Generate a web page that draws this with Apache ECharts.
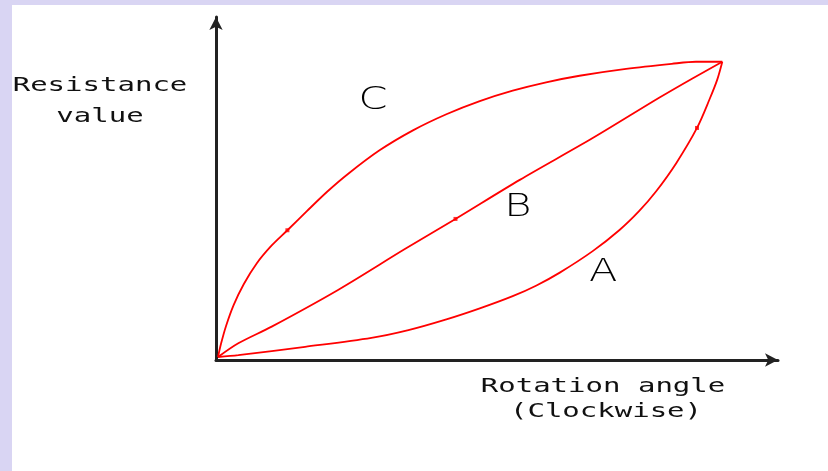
<!DOCTYPE html>
<html>
<head>
<meta charset="utf-8">
<script src="https://cdn.jsdelivr.net/npm/echarts@6/dist/echarts.min.js"></script>
<style>
html, body { margin: 0; padding: 0; background: #d9d5f3; }
.panel { position: absolute; left: 12px; top: 5px; right: 0; bottom: 0; background: #fff; }
#chart { position: absolute; left: 0; top: 0; width: 828px; height: 471px; }
</style>
</head>
<body>
<div class="panel"></div>
<div id="chart"></div>
<script>
// curve points, [rotation, resistance], full scale = 100
const curveC = [
  [0.4, 1.0], [1.0, 5.5], [2.0, 11.5], [3.5, 18.5], [5.5, 25.5], [8.0, 32.3],
  [11.0, 38.4], [14.1, 43.5], [18.0, 50.0], [22.0, 56.5], [26.0, 62.3],
  [32.3, 70.3], [38.9, 77.0], [45.5, 82.4], [52.1, 86.8], [58.6, 90.3],
  [65.2, 93.1], [71.8, 95.3], [81.0, 97.6], [90.0, 99.3], [94.8, 100], [100, 100]
];
const curveB = [
  [0.4, 1.0], [4.4, 5.6], [11.0, 11.2], [24.1, 23.5], [37.3, 37.2], [47.3, 47.3],
  [60.0, 60.4], [74.4, 74.4], [87.6, 88.0], [94.1, 94.4], [100, 100]
];
const curveA = [
  [0.4, 1.0], [4.4, 1.6], [17.6, 4.4], [30.7, 7.4], [38.0, 10.0], [45.5, 13.6],
  [52.1, 17.3], [58.6, 21.4], [63.3, 25.0], [67.9, 29.3], [74.4, 36.5],
  [79.7, 43.6], [83.6, 50.0], [86.9, 56.5], [90.9, 66.0], [95.0, 77.8],
  [97.5, 87.5], [99.0, 94.0], [100, 100]
];
// little square dots sitting on each curve
const dots = [[14.1, 43.5], [47.3, 47.3], [95.0, 77.8]];
// curve letters
const letterNames = ['C', 'B', 'A'];
const letterPos = [[31.0, 86.9], [59.6, 51.0], [76.5, 29.2]];

const yTitle = ['Resistance', 'value'];
const xTitle = ['Rotation angle', '(Clockwise)'];

const chart = echarts.init(document.getElementById('chart'));

const lineOf = (name, data) => ({
  name: name,
  type: 'line',
  data: data,
  showSymbol: false,
  smooth: 0.3,
  silent: true,
  lineStyle: { color: '#ff0000', width: 1.8 }
});

const monoText = (txt, x, y) => ({
  type: 'text',
  x: x,
  y: y,
  scaleX: 1.45,
  style: {
    text: txt,
    font: '20px "DejaVu Sans Mono"',
    fill: '#111',
    textAlign: 'center',
    textVerticalAlign: 'middle'
  }
});

const axisCommon = {
  axisLine: { show: true, lineStyle: { color: '#222', width: 3 }, symbol: ['none', 'arrow'], symbolSize: [10, 13] },
  axisTick: { show: false }, axisLabel: { show: false }, splitLine: { show: false }
};

const option = {
  animation: false,
  grid: { left: 216, top: 17, right: 50, bottom: 111 },
  xAxis: Object.assign({ type: 'value', min: 0, max: 111 }, axisCommon),
  yAxis: Object.assign({ type: 'value', min: 0, max: 115 }, axisCommon),
  series: [
    lineOf('C', curveC),
    lineOf('B', curveB),
    lineOf('A', curveA),
    {
      type: 'scatter', data: dots, symbol: 'rect', symbolSize: 4,
      itemStyle: { color: '#ff0000' }, silent: true
    }
  ],
  graphic: [
    monoText(yTitle[0], 100, 86),
    monoText(yTitle[1], 100, 117),
    monoText(xTitle[0], 603, 387),
    monoText(xTitle[1], 606, 412)
  ]
};
chart.setOption(option);

// letters go where the data coords land, stretched a bit like the original
const letters = letterNames.map((n, i) => {
  const p = chart.convertToPixel({ gridIndex: 0 }, letterPos[i]);
  return {
    type: 'text',
    x: p[0],
    y: p[1],
    scaleX: 1.3,
    style: {
      text: n,
      font: '200 32px "DejaVu Sans"',
      fill: '#000',
      textAlign: 'center',
      textVerticalAlign: 'middle'
    }
  };
});
chart.setOption({ graphic: option.graphic.concat(letters) });
</script>
</body>
</html>
